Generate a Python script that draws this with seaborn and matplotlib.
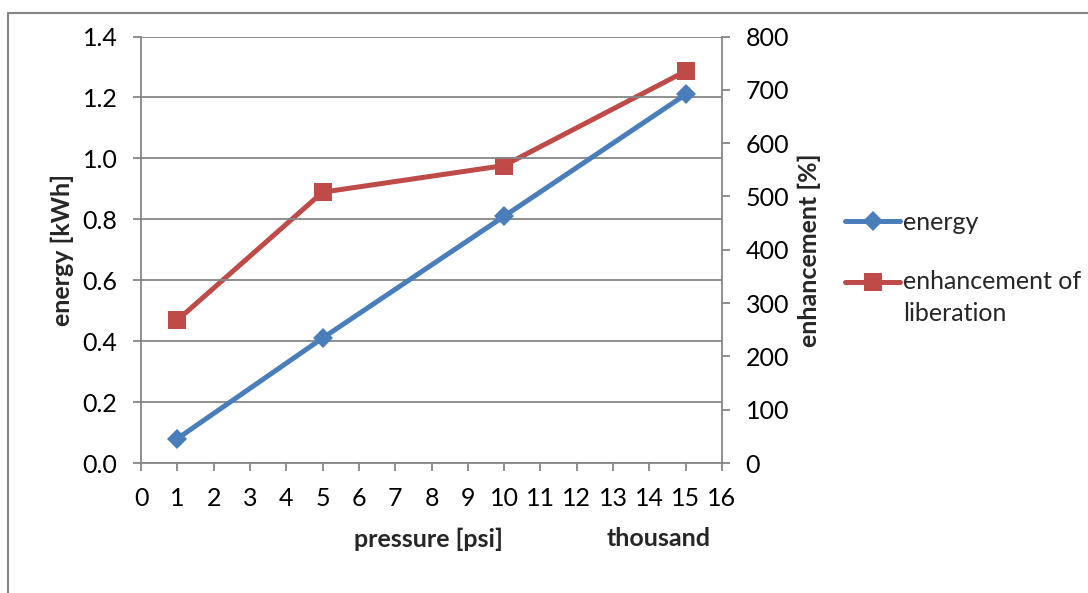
import matplotlib
matplotlib.use("Agg")
import matplotlib.pyplot as plt
from matplotlib.patches import Rectangle
from matplotlib.lines import Line2D
from matplotlib.legend_handler import HandlerLine2D
import seaborn as sns
import pandas as pd

# pressure in thousand psi
pressure = [1, 5, 10, 15]
energy_kwh = [0.08, 0.41, 0.81, 1.21]
enhancement_pct = [268, 508, 558, 735]

energy_label = "energy"
enhancement_label = "enhancement of\nliberation"

x_ticks = list(range(0, 17))
left_ticks = [0.0, 0.2, 0.4, 0.6, 0.8, 1.0, 1.2, 1.4]
right_ticks = [0, 100, 200, 300, 400, 500, 600, 700, 800]

BLUE = "#4A7EBB"
RED = "#BE4B48"
GRAY = "#868686"
FS = 18
LINE_SPACING = 1.48


class FirstLineHandler(HandlerLine2D):
    """Place the legend key level with the first line of a wrapped label."""

    def __init__(self, lift_pt, **kw):
        super().__init__(**kw)
        self.lift_pt = lift_pt

    def create_artists(self, legend, orig_handle, xdescent, ydescent,
                       width, height, fontsize, trans):
        return super().create_artists(legend, orig_handle, xdescent,
                                      ydescent - 2 * self.lift_pt,
                                      width, height, fontsize, trans)


sns.set_theme(style="white")
plt.rcParams["font.family"] = ["Lato", "DejaVu Sans"]

df = pd.DataFrame({"pressure": pressure, "energy": energy_kwh,
                   "enhancement": enhancement_pct})

fig = plt.figure(figsize=(10.88, 5.93), dpi=100)
ax = fig.add_axes([0.1296, 0.2192, 0.5340, 0.7192])
ax2 = ax.twinx()

sns.lineplot(data=df, x="pressure", y="energy", ax=ax, color=BLUE,
             linewidth=3.6, marker="D", markersize=10.5, markeredgewidth=0,
             zorder=3)
sns.lineplot(data=df, x="pressure", y="enhancement", ax=ax2, color=RED,
             linewidth=3.6, marker="s", markersize=13, markeredgewidth=0,
             zorder=3)

ax.set_xlim(0, 16)
ax.set_ylim(0, 1.4)
ax2.set_ylim(0, 800)
ax.set_xticks(x_ticks)
ax.set_yticks(left_ticks)
ax.set_yticklabels([f"{v:.1f}" for v in left_ticks])
ax2.set_yticks(right_ticks)

ax.yaxis.grid(True, color=GRAY, linewidth=1.3)
ax.set_axisbelow(True)
ax.set_zorder(ax2.get_zorder() + 1)
ax.patch.set_visible(False)

for a in (ax, ax2):
    for side, sp in a.spines.items():
        sp.set_color(GRAY)
        sp.set_linewidth(1.3)
    a.spines["top"].set_visible(False)
    a.tick_params(axis="both", which="both", length=6, width=1.3,
                  color=GRAY, labelsize=FS, labelcolor="black", pad=6)
ax.spines["right"].set_visible(False)
ax2.spines["left"].set_visible(False)
ax2.spines["bottom"].set_visible(False)
ax.tick_params(axis="x", bottom=True, direction="out", pad=11)
ax.tick_params(axis="y", left=True, direction="out", pad=11)
ax2.tick_params(axis="y", right=True, direction="out", pad=11)

ax.set_xlabel("")
ax.set_ylabel("energy [kWh]", fontsize=FS, fontweight="bold", labelpad=6)
ax2.set_ylabel("enhancement [%]", fontsize=FS, fontweight="bold",
               labelpad=6)

fig.text(428 / 1088, 1 - 539 / 593, "pressure [psi]", fontsize=FS,
         fontweight="bold", ha="center", va="center")
fig.text(659 / 1088, 1 - 539 / 593, "thousand", fontsize=FS,
         fontweight="bold", ha="center", va="center")

energy_handle = Line2D([], [], color=BLUE, linewidth=3.6, marker="D",
                       markersize=10.5, markeredgewidth=0)
enh_handle = Line2D([], [], color=RED, linewidth=3.6, marker="s",
                    markersize=13, markeredgewidth=0)
leg = fig.legend([energy_handle, enh_handle],
                 [energy_label, enhancement_label],
                 loc="center left",
                 bbox_to_anchor=(845 / 1088, 1 - 268 / 593),
                 frameon=False, fontsize=FS, handlelength=2.2,
                 handletextpad=0.12, labelspacing=1.45, borderaxespad=0,
                 borderpad=0,
                 handler_map={enh_handle: FirstLineHandler(11.5)})
for t in leg.get_texts():
    t.set_linespacing(LINE_SPACING)

# chart-area frame
fig.patches.append(Rectangle((8 / 1088, -0.05), 1.2, 1.05 - 13 / 593,
                             transform=fig.transFigure, fill=False,
                             edgecolor=GRAY, linewidth=1.5))

fig.savefig("out.png", dpi=100)
